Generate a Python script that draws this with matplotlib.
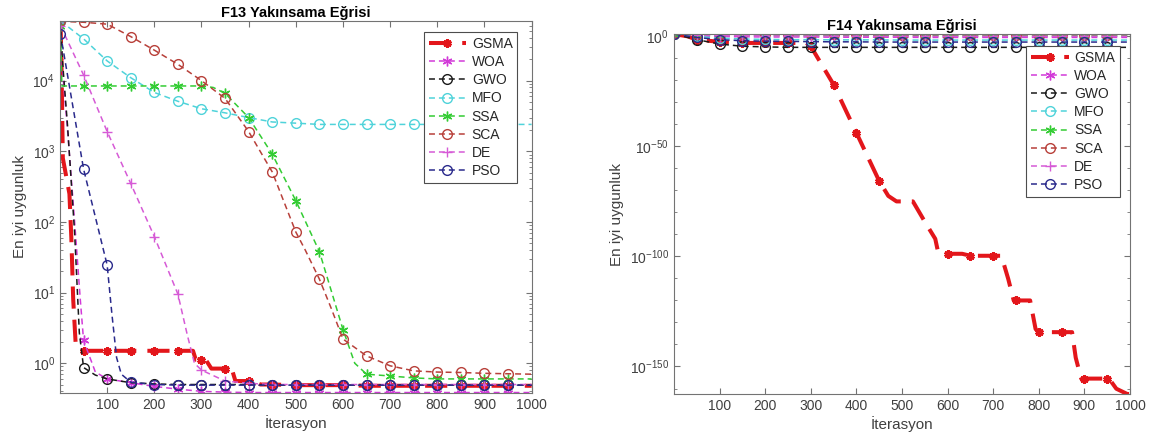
import numpy as np
import matplotlib.pyplot as plt

plt.rcParams['font.family'] = ['Liberation Sans', 'DejaVu Sans']
plt.rcParams['mathtext.fontset'] = 'custom'
plt.rcParams['mathtext.rm'] = 'Liberation Sans'
plt.rcParams['mathtext.it'] = 'Liberation Sans:italic'
plt.rcParams['mathtext.bf'] = 'Liberation Sans:bold'

names = ['GSMA', 'WOA', 'GWO', 'MFO', 'SSA', 'SCA', 'DE', 'PSO']
colors = ['#e3161b', '#d23ad8', '#1a1a1a', '#4fd3da', '#33cc33', '#b8403a', '#d65ad6', '#2a2a8c']
markers = [(6, 2, 0), (6, 2, 0), 'o', 'o', (6, 2, 0), 'o', '+', 'o']

# ---- F13 data (iteration, best fitness) ----
gsma13_x = [1, 3, 6, 20, 24, 28, 33, 42, 50, 100, 150, 200, 250, 282, 288, 300, 309, 321, 350, 364,
            372, 400, 412, 425, 450, 500, 550, 600, 650, 700, 750, 800, 850, 900, 950, 1000]
gsma13_y = [6.9e4, 2e4, 8e2, 250, 60, 8, 2, 1.5, 1.5, 1.5, 1.5, 1.5, 1.5, 1.5, 1.12, 1.12, 1.12, 0.84, 0.84, 0.84,
            0.56, 0.56, 0.55, 0.5, 0.5, 0.49, 0.49, 0.49, 0.48, 0.48, 0.48, 0.48, 0.48, 0.48, 0.48, 0.48]
woa13_x = [1, 5, 16, 31, 43, 50, 75, 100, 150, 200, 250, 300, 350, 400, 450, 500, 550, 600, 650, 700,
           750, 800, 850, 900, 950, 1000]
woa13_y = [6.9e4, 1.5e4, 2e3, 100, 8, 2.1, 0.75, 0.6, 0.53, 0.47, 0.43, 0.40, 0.39, 0.385, 0.385, 0.385,
           0.385, 0.385, 0.385, 0.385, 0.385, 0.385, 0.385, 0.385, 0.385, 0.385]
gwo13_x = [1, 5, 16, 31, 41, 50, 75, 100, 150, 200, 250, 300, 350, 400, 450, 500, 550, 600, 650, 700,
           750, 800, 850, 900, 950, 1000]
gwo13_y = [6.9e4, 2e4, 2.3e3, 70, 2.7, 0.87, 0.68, 0.6, 0.53, 0.51, 0.5, 0.5, 0.5, 0.5, 0.49, 0.49,
           0.49, 0.49, 0.49, 0.49, 0.49, 0.49, 0.49, 0.49, 0.49, 0.49]
mfo13_x = [1, 50, 100, 150, 200, 250, 300, 350, 400, 450, 500, 550, 600, 650, 700, 750, 800, 850, 900, 950, 1000]
mfo13_y = [7e4, 3.9e4, 1.9e4, 1.1e4, 6.8e3, 5.1e3, 4e3, 3.5e3, 3e3, 2.6e3, 2.5e3, 2.4e3, 2.4e3, 2.4e3,
           2.4e3, 2.4e3, 2.4e3, 2.4e3, 2.4e3, 2.4e3, 2.4e3]
ssa13_x = [1, 4, 50, 100, 150, 200, 250, 300, 325, 350, 400, 450, 500, 550, 600, 625, 650, 700, 750, 800,
           850, 900, 950, 1000]
ssa13_y = [6e4, 8.4e3, 8.4e3, 8.4e3, 8.4e3, 8.4e3, 8.4e3, 8.4e3, 8e3, 6.6e3, 3e3, 910, 200, 38, 3.0, 1.0,
           0.7, 0.66, 0.62, 0.6, 0.6, 0.6, 0.6, 0.6]
sca13_x = [1, 50, 100, 150, 200, 250, 300, 350, 400, 450, 500, 520, 550, 575, 600, 650, 700, 750, 800, 850,
           900, 950, 1000]
sca13_y = [6.9e4, 6.7e4, 6.3e4, 4.2e4, 2.7e4, 1.7e4, 1e4, 5.6e3, 1.9e3, 510, 72, 40, 15.5, 6, 2.2, 1.27,
           0.92, 0.78, 0.75, 0.74, 0.72, 0.71, 0.70]
de13_x = [1, 50, 100, 150, 200, 250, 270, 285, 300, 350, 400, 450, 500, 550, 600, 650, 700, 750, 800, 850,
          900, 950, 1000]
de13_y = [6e4, 1.2e4, 1.9e3, 350, 62, 9.5, 2.5, 1.0, 0.8, 0.56, 0.52, 0.5, 0.5, 0.5, 0.5, 0.5, 0.5, 0.5,
          0.5, 0.5, 0.5, 0.5, 0.5]
pso13_x = [1, 50, 100, 110, 120, 130, 150, 200, 250, 300, 350, 400, 450, 500, 550, 600, 650, 700, 750, 800,
           850, 900, 950, 1000]
pso13_y = [4.6e4, 560, 24.5, 5, 1.2, 0.7, 0.54, 0.5, 0.49, 0.49, 0.49, 0.49, 0.49, 0.49, 0.49, 0.49, 0.49,
           0.49, 0.49, 0.49, 0.49, 0.49, 0.49, 0.49]

# ---- F14 data, stored as log10 of best fitness ----
gsma14_x = [1, 30, 50, 100, 150, 200, 250, 290, 300, 350, 400, 450, 470, 488, 524, 552, 573, 580, 600, 632,
            650, 700, 718, 733, 745, 750, 781, 793, 800, 850, 873, 881, 893, 900, 950, 954, 970, 994, 1000]
gsma14_e = [1.0, 0.0, -1.5, -2.5, -3.0, -3.0, -3.0, -3.0, -4.5, -21.9, -43.8, -65.7, -72.5, -75.0, -75.0,
            -84.9, -92.0, -98.8, -98.8, -98.8, -99.7, -99.7, -99.7, -110.2, -120.0, -120.0, -120.0, -133.0,
            -134.4, -134.4, -134.4, -146.0, -155.5, -155.5, -155.5, -155.5, -160.1, -162.5, -162.5]
x14 = [1, 50, 100, 150, 200, 250, 300, 350, 400, 450, 500, 550, 600, 650, 700, 750, 800, 850, 900, 950, 1000]
woa14_e = [1.0, 0.2, -0.1, -0.2, -0.3, -0.3, -0.3, -0.4, -0.4, -0.4, -0.4, -0.5, -0.5, -0.5, -0.5, -0.5,
           -0.5, -0.5, -0.5, -0.5, -0.5]
gwo14_e = [1.0, -1.5, -3.5, -4.5, -4.8, -5.0, -5.0, -5.0, -5.0, -5.0, -5.0, -5.0, -5.0, -5.0, -5.0, -5.0,
           -5.0, -5.0, -5.0, -5.0, -5.0]
mfo14_e = [1.0, 0.0, -0.8, -1.2, -1.4, -1.5, -1.5, -1.6, -1.6, -1.6, -1.7, -1.7, -1.7, -1.7, -1.7, -1.7,
           -1.7, -1.7, -1.7, -1.7, -1.7]
ssa14_e = [1.0, 0.8, 0.6, 0.5, 0.5, 0.4, 0.4, 0.4, 0.3, 0.3, 0.3, 0.3, 0.3, 0.2, 0.2, 0.2, 0.2, 0.2, 0.2,
           0.2, 0.2]
sca14_e = [1.0, 1.0, 0.95, 0.95, 0.9, 0.9, 0.9, 0.85, 0.85, 0.85, 0.8, 0.8, 0.8, 0.8, 0.8, 0.8, 0.8, 0.8,
           0.8, 0.8, 0.8]
de14_e = [1.0, 0.6, 0.4, 0.3, 0.2, 0.2, 0.1, 0.1, 0.1, 0.0, 0.0, 0.0, 0.0, 0.0, 0.0, 0.0, 0.0, 0.0, 0.0,
          0.0, 0.0]
pso14_e = [1.0, -0.5, -1.5, -2.0, -2.2, -2.3, -2.4, -2.5, -2.5, -2.6, -2.6, -2.6, -2.6, -2.6, -2.6, -2.6,
           -2.6, -2.6, -2.6, -2.6, -2.6]

f13 = [(gsma13_x, gsma13_y), (woa13_x, woa13_y), (gwo13_x, gwo13_y), (mfo13_x, mfo13_y),
       (ssa13_x, ssa13_y), (sca13_x, sca13_y), (de13_x, de13_y), (pso13_x, pso13_y)]
f14 = [(gsma14_x, 10.0 ** np.array(gsma14_e)), (x14, 10.0 ** np.array(woa14_e)),
       (x14, 10.0 ** np.array(gwo14_e)), (x14, 10.0 ** np.array(mfo14_e)),
       (x14, 10.0 ** np.array(ssa14_e)), (x14, 10.0 ** np.array(sca14_e)),
       (x14, 10.0 ** np.array(de14_e)), (x14, 10.0 ** np.array(pso14_e))]


def draw(ax, series):
    for name, (x, y), c, m in zip(names, series, colors, markers):
        x = np.array(x)
        mask = (((x % 50) == 0) | (x == 1)) & (x < 1000)
        if name == 'GSMA':
            ax.semilogy(x, y, color=c, lw=2.9, dashes=(5.5, 2.75), marker=m, markevery=list(mask),
                        ms=6, mew=2.2, label=name)
        else:
            ax.semilogy(x, y, color=c, lw=1.1, dashes=(3.9, 2.6), marker=m, markevery=list(mask),
                        ms=7, mfc='none', mew=1.0, label=name)
    ax.set_xlim(0, 1000)
    ax.set_xticks(range(100, 1001, 100))
    ax.tick_params(which='both', direction='in', top=True, right=True, color='0.45',
                   labelcolor='0.25', labelsize=10)
    ax.tick_params(which='major', length=4)
    ax.tick_params(which='minor', length=2)
    for s in ax.spines.values():
        s.set_color('0.45')
        s.set_linewidth(0.8)
    ax.set_xlabel('İterasyon', fontsize=11, color='0.25', labelpad=2)
    ax.set_ylabel('En iyi uygunluk', fontsize=11, color='0.25')


def add_legend(ax, anchor):
    leg = ax.legend(loc='upper right', bbox_to_anchor=anchor, borderaxespad=0, fontsize=10,
                    handlelength=2.7, handletextpad=0.4, labelspacing=0.3, borderpad=0.35,
                    fancybox=False, framealpha=1, edgecolor='0.3')
    leg.get_frame().set_linewidth(0.8)
    for t in leg.get_texts():
        t.set_color('0.15')


fig = plt.figure(figsize=(11.56, 4.45), dpi=100)
ax1 = fig.add_axes([0.0519, 0.117, 0.408, 0.836])
ax2 = fig.add_axes([0.583, 0.1146, 0.3945, 0.809])

draw(ax1, f13)
ax1.set_ylim(0.38, 7e4)
ax1.set_title('F13 Yakınsama Eğrisi', fontweight='bold', fontsize=10.5, pad=3)
add_legend(ax1, (0.97, 0.97))

draw(ax2, f14)
ax2.set_ylim(10.0 ** -162.5, 10.0 ** 1.06)
ax2.set_yticks([1e-150, 1e-100, 1e-50, 1e0])
ax2.set_yticklabels([r'$10^{-150}$', r'$10^{-100}$', r'$10^{-50}$', r'$10^{0}$'])
ax2.set_yticks([10.0 ** k for k in range(-160, 0, 10) if k % 50 != 0], minor=True)
ax2.set_yticklabels([], minor=True)
ax2.set_title('F14 Yakınsama Eğrisi', fontweight='bold', fontsize=10.5, pad=3)
add_legend(ax2, (0.978, 0.967))

fig.savefig('out.png', dpi=100)
